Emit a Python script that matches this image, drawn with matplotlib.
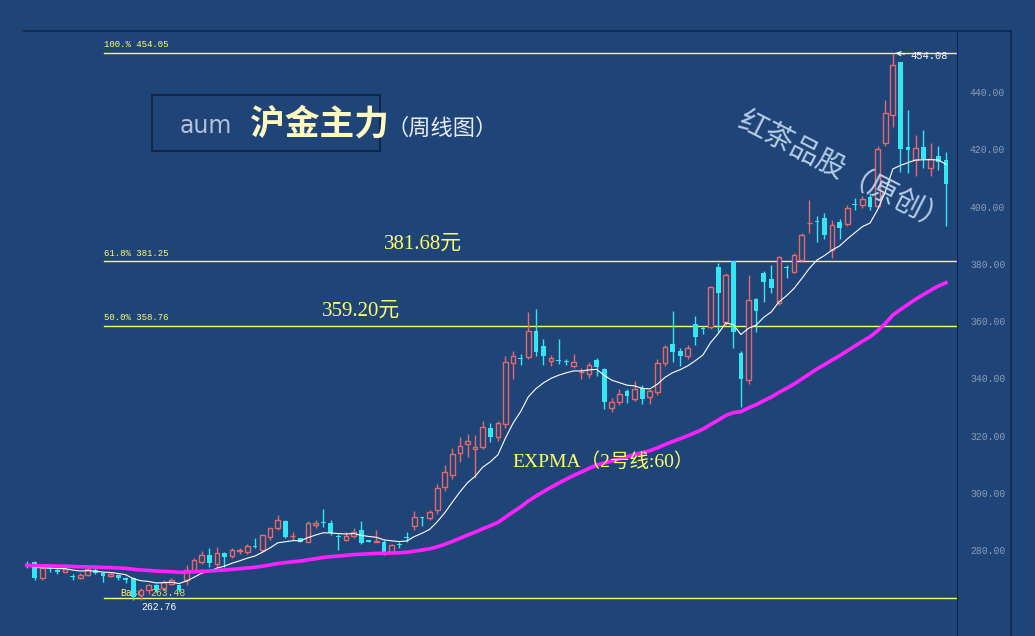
import numpy as np
import pandas as pd
import matplotlib
matplotlib.use("Agg")
import matplotlib.pyplot as plt

# weekly OHLC
opens = [275.5, 276.0, 270.4, 274.2, 273.5, 272.7, 271.2, 270.7, 271.6, 273.4,
         272.2, 271.3, 271.5, 270.6, 270.5, 264.5, 266.5, 268.0, 267.0, 268.5,
         268.2, 270.0, 273.4, 276.3, 278.6, 275.3, 279.2, 278.3, 280.0, 279.7,
         281.8, 280.3, 284.9, 288.0, 290.5, 285.2, 284.5, 283.3, 289.2, 290.0,
         289.7, 285.3, 283.9, 285.3, 287.4, 283.8, 283.2, 283.3, 279.8, 282.3,
         284.6, 288.7, 291.6, 291.5, 294.3, 302.4, 306.5, 314.2, 317.5, 315.5,
         316.3, 323.0, 319.7, 324.4, 345.7, 347.2, 347.8, 357.0, 351.5, 346.5,
         346.6, 346.2, 344.5, 342.5, 342.0, 346.7, 343.6, 330.0, 332.0, 336.0,
         333.0, 336.8, 333.8, 335.6, 345.7, 352.4, 350.0, 348.0, 359.3, 357.6,
         358.2, 379.2, 360.0, 381.3, 349.2, 339.7, 368.0, 377.0, 375.0, 366.6,
         379.1, 377.5, 381.7, 394.5, 395.2, 396.3, 385.2, 395.0, 394.2, 401.1,
         401.0, 403.7, 400.5, 422.5, 432.3, 450.8, 421.0, 416.6, 421.0, 414.0,
         418.0, 416.6]
closes = [275.0, 270.7, 274.0, 273.8, 272.7, 273.8, 271.0, 271.6, 273.6, 272.2,
          271.1, 272.0, 270.5, 269.8, 264.0, 266.5, 268.2, 266.5, 269.3, 269.9,
          266.5, 273.4, 276.9, 278.6, 275.7, 279.2, 277.8, 280.4, 280.3, 281.7,
          281.5, 285.6, 287.9, 290.8, 284.9, 285.4, 283.3, 289.7, 289.7, 289.8,
          286.2, 285.0, 285.3, 286.8, 282.7, 283.3, 283.5, 279.8, 282.1, 282.1,
          284.5, 291.9, 291.4, 293.6, 302.0, 307.6, 313.9, 316.7, 318.3, 316.5,
          323.3, 319.7, 324.6, 346.0, 348.0, 347.0, 356.9, 349.5, 348.0, 347.4,
          346.4, 346.0, 346.0, 342.7, 345.0, 344.3, 332.0, 332.0, 335.0, 334.0,
          336.5, 333.0, 335.8, 345.7, 351.4, 349.7, 348.0, 350.8, 354.7, 357.4,
          372.2, 370.1, 376.4, 356.5, 340.1, 367.7, 363.8, 374.0, 372.0, 382.7,
          379.0, 383.4, 390.4, 394.7, 394.8, 390.4, 393.9, 393.0, 400.0, 401.0,
          403.0, 400.2, 420.4, 433.0, 449.8, 420.4, 420.0, 420.8, 417.0, 417.0,
          416.0, 408.2]
highs = [276.5, 276.5, 275.0, 275.0, 274.0, 274.3, 272.0, 272.3, 274.3, 274.0,
         272.5, 272.5, 272.0, 271.0, 271.0, 267.0, 268.5, 268.5, 270.0, 270.5,
         268.5, 275.0, 277.6, 280.0, 281.0, 281.5, 279.5, 281.0, 281.0, 282.5,
         284.5, 285.8, 288.2, 292.5, 291.0, 286.5, 284.6, 290.5, 290.8, 294.6,
         291.0, 286.0, 286.5, 288.0, 290.5, 284.0, 287.4, 284.0, 282.6, 283.0,
         286.5, 294.0, 292.0, 294.5, 303.5, 310.0, 316.0, 320.0, 321.0, 320.5,
         325.5, 324.8, 325.5, 348.0, 350.0, 349.0, 363.5, 364.5, 354.0, 348.5,
         354.0, 347.0, 349.0, 344.0, 346.0, 347.5, 344.0, 333.5, 336.5, 336.5,
         339.5, 338.0, 336.5, 347.0, 352.0, 364.0, 351.0, 352.0, 362.0, 358.5,
         372.5, 380.5, 377.0, 381.5, 350.0, 376.4, 368.5, 378.0, 380.0, 383.0,
         380.0, 384.0, 391.0, 402.6, 397.0, 398.0, 395.5, 396.0, 401.0, 403.5,
         404.0, 405.0, 421.5, 437.5, 454.08, 451.0, 434.0, 425.5, 427.0, 422.5,
         421.5, 419.5]
lows = [274.0, 270.0, 270.0, 272.5, 272.0, 272.5, 270.0, 270.2, 271.2, 271.8,
        269.0, 271.0, 270.0, 268.9, 262.8, 263.0, 265.0, 265.5, 266.0, 268.0,
        265.5, 268.0, 272.5, 275.5, 274.5, 274.5, 274.5, 277.5, 278.8, 279.0,
        281.0, 279.8, 284.0, 287.5, 284.5, 284.0, 283.0, 283.0, 288.0, 288.5,
        285.5, 280.5, 283.5, 284.5, 282.3, 283.0, 283.0, 278.5, 279.2, 281.0,
        283.0, 287.5, 288.6, 291.0, 293.0, 301.0, 305.0, 311.0, 313.0, 305.5,
        315.5, 318.0, 318.5, 323.0, 340.0, 345.0, 347.0, 348.0, 345.0, 344.5,
        345.5, 345.0, 344.0, 340.0, 340.5, 341.0, 329.5, 328.5, 331.0, 331.8,
        332.5, 331.5, 331.5, 334.5, 344.5, 346.0, 344.5, 347.0, 352.0, 356.0,
        357.5, 356.5, 359.0, 351.0, 330.3, 338.5, 356.5, 367.0, 370.0, 366.0,
        375.5, 377.0, 381.0, 391.0, 388.0, 389.0, 382.5, 389.0, 393.5, 399.0,
        400.0, 399.0, 400.0, 421.5, 428.0, 412.5, 412.0, 411.0, 414.0, 411.0,
        413.0, 393.6]

fib_levels = [454.05, 381.25, 358.76, 263.5]
fib_labels = ["100.% 454.05", "61.8% 381.25", "50.0% 358.76", ""]
y_ticks = [280, 300, 320, 340, 360, 380, 400, 420, 440]

BG = "#1F4478"
RED = "#E8686A"
CYAN = "#33E6F2"
YELLOW = "#FFFF66"

plt.rcParams["font.family"] = ["DejaVu Sans", "Noto Sans CJK SC"]
fig = plt.figure(figsize=(10.35, 6.36), dpi=100, facecolor=BG)
ax = fig.add_axes([24 / 1035, 0, 933 / 1035, 605 / 636], facecolor=BG)

n = len(closes)
x = np.arange(n)
o = np.array(opens)
c = np.array(closes)
h = np.array(highs)
l = np.array(lows)
up = c >= o
w = 0.62

ax.vlines(x[up], l[up], h[up], color=RED, lw=1, zorder=3)
ax.vlines(x[~up], l[~up], h[~up], color=CYAN, lw=1, zorder=3)
ax.bar(x[up], (c - o)[up], bottom=o[up], width=w, facecolor=BG,
       edgecolor=RED, lw=1, zorder=4)
dn_h = np.maximum((o - c)[~up], 0.4)
ax.bar(x[~up], dn_h, bottom=c[~up], width=w, color=CYAN, lw=0, zorder=4)

s = pd.Series(closes)
ema_short = s.ewm(span=10, adjust=False).mean()
ema_long = s.ewm(span=60, adjust=False).mean()
ax.plot(x, ema_short, color="white", lw=0.8, zorder=5)
ax.plot(x, ema_long, color="#FF22FF", lw=2.6, zorder=5)

x_left = -0.4
x_right = 122.45
for lvl, lab in zip(fib_levels, fib_labels):
    ax.plot([10.1, x_right], [lvl, lvl], color=YELLOW, lw=1, zorder=2)
    if lab:
        ax.text(10.1, lvl + 1.2, lab, color=YELLOW, fontsize=6.5,
                family="Liberation Mono", va="bottom")

ax.set_xlim(x_left, x_right)
ax.set_ylim(250.3, 461.7)
ax.set_xticks([])
ax.set_yticks([])
for sp in ax.spines.values():
    sp.set_visible(False)
ax.spines["right"].set_visible(True)
ax.spines["right"].set_color("#10284C")

for t in y_ticks:
    fig.text(970 / 1035, ax.transData.transform((0, t))[1] / 636, f"{t:.2f}",
             color="#8C9BB5", fontsize=7, va="center", family="Liberation Mono")

# top border and second right line
fig.add_artist(plt.Line2D([24 / 1035, 1011 / 1035], [1 - 31 / 636] * 2,
                          color="#10284C", lw=1.2))
fig.add_artist(plt.Line2D([1011 / 1035] * 2, [0, 1 - 31 / 636],
                          color="#10284C", lw=1.2))

# peak annotation
ax.annotate("454.08", xy=(114, 454.08), xytext=(116.3, 452.8), color="white",
            fontsize=7.5, family="Liberation Mono", va="center",
            arrowprops=dict(arrowstyle="->", color="white", lw=0.8))
ax.text(12.3, 264.3, "Base", color=YELLOW, fontsize=7, family="Liberation Mono")
ax.text(16.3, 264.3, "263.48", color=YELLOW, fontsize=7, family="Liberation Mono",
        alpha=0.8)
ax.text(15.0, 259.4, "262.76", color="white", fontsize=7, family="Liberation Mono")

# title box
fig.patches.append(plt.Rectangle((152 / 1035, 1 - 151 / 636), 228 / 1035, 56 / 636,
                                 transform=fig.transFigure, facecolor="none",
                                 edgecolor="#0E2240", lw=1.2))
fig.text(180 / 1035, 1 - 126 / 636, "aum", color="#B8C0D8", fontsize=17,
         va="center", family="DejaVu Sans")
fig.text(250 / 1035, 1 - 124 / 636, "沪金主力", color="#FFF8C0", fontsize=25,
         va="center", family="Noto Sans CJK SC", weight="bold")
fig.text(387 / 1035, 1 - 128 / 636, "（周线图）", color="#E8ECF4", fontsize=16,
         va="center", family="Noto Sans CJK SC")

serif_cjk = ["Liberation Serif", "Noto Sans CJK SC"]
fig.text(384 / 1035, 1 - 244 / 636, "381.68元", color=YELLOW, fontsize=15,
         va="center", family=serif_cjk)
fig.text(322 / 1035, 1 - 311 / 636, "359.20元", color=YELLOW, fontsize=15,
         va="center", family=serif_cjk)
fig.text(512 / 1035, 1 - 462 / 636, "EXPMA（2号线:60）", color=YELLOW, fontsize=14,
         va="center", family=serif_cjk)

fig.text(843 / 1035, 1 - 172 / 636, "红茶品股（原创）", color="#C8DCF2", fontsize=21,
         va="center", ha="center", rotation=-27, family="Noto Sans CJK SC",
         alpha=0.9)

fig.savefig("out.png", dpi=100, facecolor=BG)
